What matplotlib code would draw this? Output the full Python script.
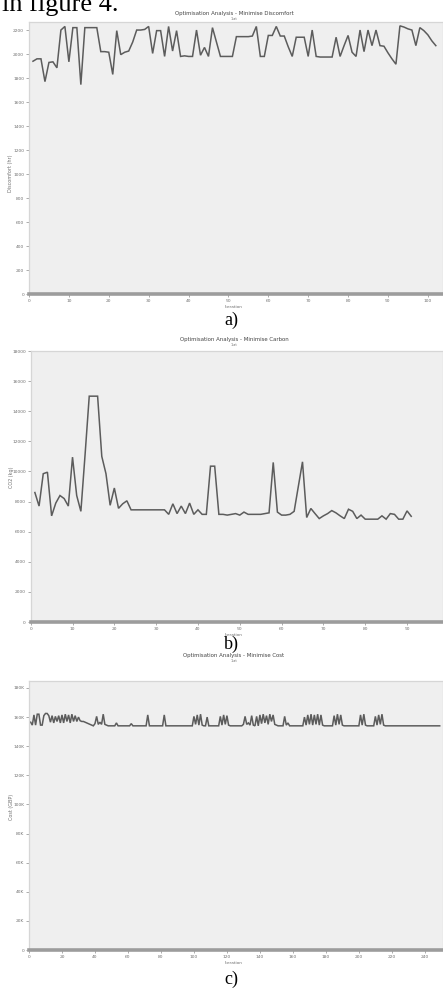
import numpy as np
import matplotlib.pyplot as plt
from matplotlib.ticker import MultipleLocator, FuncFormatter

plt.close("all")

# ---- data ----
discomfort = [1940, 1960, 1960, 1770, 1930, 1935, 1885, 2200, 2230, 1935,
              2220, 2220, 1745, 2220, 2220, 2220, 2220, 2020, 2020, 2015,
              1830, 2195, 1995, 2015, 2025, 2100, 2200, 2200, 2205, 2230,
              2005, 2195, 2195, 1980, 2230, 2025, 2195, 1980, 1985, 1980,
              1980, 2200, 1990, 2055, 1980, 2220, 2100, 1980, 1980, 1980,
              1980, 2145, 2145, 2145, 2145, 2150, 2230, 1980, 1980, 2155,
              2155, 2230, 2150, 2150, 2060, 1980, 2140, 2140, 2140, 1980,
              2200, 1980, 1975, 1975, 1975, 1975, 2140, 1980, 2070, 2155,
              2015, 1980, 2200, 2020, 2200, 2070, 2200, 2070, 2065, 2010,
              1960, 1915, 2235, 2225, 2210, 2200, 2070, 2220, 2195, 2160,
              2110, 2070]

carbon = [8600, 7700, 9850, 9950, 7050, 7900, 8400, 8200, 7700, 10950,
          8400, 7350, 11100, 15000, 15000, 15000, 11000, 9850, 7750, 8900,
          7550, 7850, 8050, 7450, 7450, 7450, 7450, 7450, 7450, 7450,
          7450, 7450, 7150, 7850, 7200, 7700, 7200, 7900, 7150, 7450,
          7150, 7150, 10350, 10350, 7150, 7150, 7100, 7150, 7200, 7100,
          7300, 7150, 7150, 7150, 7150, 7200, 7250, 10600, 7300, 7100,
          7100, 7150, 7350, 9000, 10640, 6940, 7540, 7200, 6870, 7050,
          7200, 7400, 7250, 7050, 6870, 7490, 7350, 6870, 7100, 6830,
          6830, 6830, 6830, 7050, 6830, 7200, 7150, 6830, 6830, 7380,
          7020]

cost = [156500, 154500, 161500, 154500, 162000, 162000, 154500, 154500, 161000, 162500,
        162500, 161000, 156500, 161000, 156000, 160500, 157000, 161000, 156000, 161500,
        156000, 162000, 157000, 161500, 156000, 162000, 157000, 161000, 157000, 160000,
        157500, 157000, 157000, 156500, 156000, 155500, 155000, 154500, 154000, 155500,
        160500, 155000, 156500, 155000, 162000, 155000, 154500, 154000, 154000, 154000,
        154000, 154000, 156000, 154000, 154000, 154000, 154000, 154000, 154000, 154000,
        154000, 155500, 154000, 154000, 154000, 154000, 154000, 154000, 154000, 154000,
        154000, 161500, 154000, 154000, 154000, 154000, 154000, 154000, 154000, 154000,
        154000, 161500, 154000, 154000, 154000, 154000, 154000, 154000, 154000, 154000,
        154000, 154000, 154000, 154000, 154000, 154000, 154000, 154000, 154000, 160500,
        155000, 161500, 154500, 162000, 154500, 154000, 154000, 160000, 154000, 154000,
        154000, 154000, 154000, 154000, 154000, 160500, 154500, 161500, 155000, 161000,
        154500, 154000, 154000, 154000, 154000, 154000, 154000, 154000, 154000, 155000,
        160500, 155000, 156000, 154500, 161000, 154500, 154000, 160500, 154000, 161500,
        155500, 162000, 156000, 161000, 155000, 162000, 157000, 161500, 155000, 154500,
        154000, 154000, 154000, 154000, 160500, 154500, 156000, 154000, 154000, 154000,
        154000, 154000, 154000, 154000, 154000, 154000, 160000, 154500, 161500, 155000,
        162000, 154500, 161500, 155000, 162000, 154500, 161500, 154500, 154000, 154000,
        154000, 154000, 154000, 154000, 161000, 154500, 162000, 155000, 161500, 154500,
        154000, 154000, 154000, 154000, 154000, 154000, 154000, 154000, 154000, 154000,
        161500, 154500, 162000, 154500, 154000, 154000, 154000, 154000, 154000, 160500,
        154500, 161500, 155000, 162000, 154500, 154000, 154000, 154000, 154000, 154000,
        154000, 154000, 154000, 154000, 154000, 154000, 154000, 154000, 154000, 154000,
        154000, 154000, 154000, 154000, 154000, 154000, 154000, 154000, 154000, 154000,
        154000, 154000, 154000, 154000, 154000, 154000, 154000, 154000, 154000]

titles = ["Optimisation Analysis - Minimise Discomfort",
          "Optimisation Analysis - Minimise Carbon",
          "Optimisation Analysis - Minimise Cost"]
ylabels = ["Discomfort (hr)", "CO2 (kg)", "Cost (GBP)"]
captions = ["a)", "b)", "c)"]

W, H = 443, 990
fig = plt.figure(figsize=(W / 100, H / 100), dpi=100)


def px_box(left, top, right, bottom):
    return [left / W, 1 - bottom / H, (right - left) / W, (bottom - top) / H]


def ftext(x, y, s, **kw):
    fig.text(x / W, 1 - y / H, s, **kw)


def style(ax, xmax, ymax, xstep, ystep, fmt):
    ax.set_facecolor("#efefef")
    ax.set_xlim(0, xmax)
    ax.set_ylim(0, ymax)
    for s in ["top", "right", "left"]:
        ax.spines[s].set_color("#d6d6d6")
        ax.spines[s].set_linewidth(0.9)
    ax.spines["bottom"].set_color("#9c9c9c")
    ax.spines["bottom"].set_linewidth(2.6)
    ax.xaxis.set_major_locator(MultipleLocator(xstep))
    ax.yaxis.set_major_locator(MultipleLocator(ystep))
    ax.yaxis.set_major_formatter(FuncFormatter(fmt))
    ax.tick_params(labelsize=3.2, colors="#8a8a8a", labelcolor="#707070",
                   length=2.5, width=0.5, pad=1.0)


panels = [
    # data, box(left, top, right, bottom), xmax, ymax, xstep, ystep, fmt
    (discomfort, (29, 22, 443, 294), 103.8, 2267, 10, 200, lambda v, p: "%d" % v),
    (carbon, (30.7, 351, 443, 622), 98.6, 18000, 10, 2000, lambda v, p: "%d" % v),
    (cost, (29, 681, 443, 950), 251, 184800, 20, 20000,
     lambda v, p: "0" if v == 0 else "%dK" % (v / 1000)),
]
title_y = [14, 340, 655.5]
label_y = [306.5, 634.5, 963]
cap_y = [320, 644, 979]
ylab_y = [173, 477, 807]

for k, (vals, b, xmax, ymax, xs, ys, fmt) in enumerate(panels):
    ax = fig.add_axes(px_box(*b))
    style(ax, xmax, ymax, xs, ys, fmt)
    it = np.arange(1, len(vals) + 1)
    ax.plot(it, vals, color="#5c5c5c", lw=1.1, solid_joinstyle="miter")
    ftext(234, title_y[k], titles[k], fontsize=3.9, color="#444444",
          ha="center", va="center")
    ftext(234, title_y[k] + 5.5, "1-at", fontsize=2.4, color="#666666",
          ha="center", va="center")
    ftext(234, label_y[k], "Iteration", fontsize=3.1, color="#707070",
          ha="center", va="center")
    ftext(11, ylab_y[k], ylabels[k], fontsize=3.5, color="#707070",
          ha="center", va="center", rotation=90)
    ftext(231, cap_y[k], captions[k], fontsize=13, family="Liberation Serif",
          ha="center", va="center")

# body text line cut off at the top edge, as in the source page
ftext(2, 10.5, "in figure 4.", fontsize=19, family="Liberation Serif",
      ha="left", va="baseline")

fig.savefig("out.png", dpi=100)
